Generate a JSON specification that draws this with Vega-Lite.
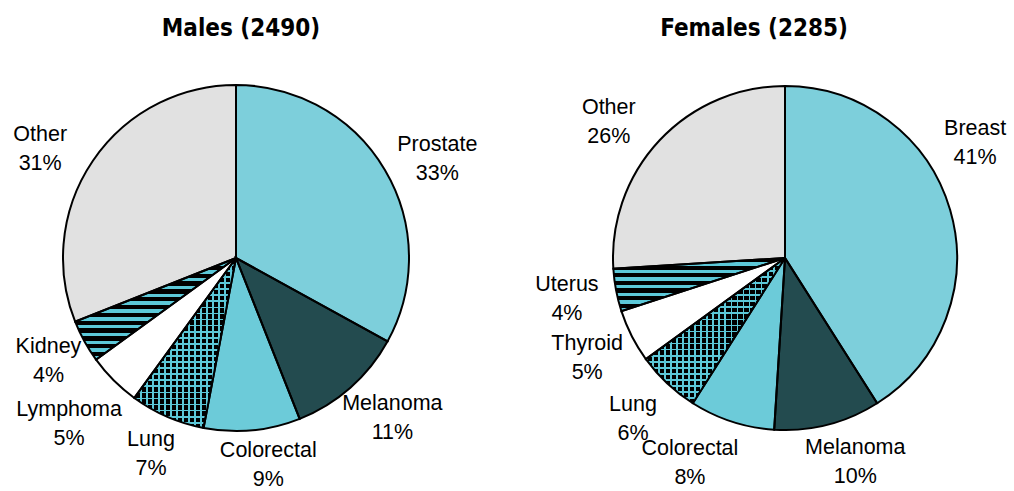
{
  "$schema": "https://vega.github.io/schema/vega-lite/v6.json",
  "padding": {"left": 1, "top": 17, "right": 0, "bottom": 0},
  "bounds": "flush",
  "spacing": 94,
  "background": "white",
  "config": {"view": {"stroke": null}},
  "resolve": {"scale": {"fill": "independent"}},
  "data": {"values": [
    {"sex": "Males", "cat": "Prostate", "pct": 33, "ord": 1},
    {"sex": "Males", "cat": "Melanoma", "pct": 11, "ord": 2},
    {"sex": "Males", "cat": "Colorectal", "pct": 9, "ord": 3},
    {"sex": "Males", "cat": "Lung", "pct": 7, "ord": 4},
    {"sex": "Males", "cat": "Lymphoma", "pct": 5, "ord": 5},
    {"sex": "Males", "cat": "Kidney", "pct": 4, "ord": 6},
    {"sex": "Males", "cat": "Other", "pct": 31, "ord": 7},
    {"sex": "Females", "cat": "Breast", "pct": 41, "ord": 1},
    {"sex": "Females", "cat": "Melanoma", "pct": 10, "ord": 2},
    {"sex": "Females", "cat": "Colorectal", "pct": 8, "ord": 3},
    {"sex": "Females", "cat": "Lung", "pct": 6, "ord": 4},
    {"sex": "Females", "cat": "Thyroid", "pct": 5, "ord": 5},
    {"sex": "Females", "cat": "Uterus", "pct": 4, "ord": 6},
    {"sex": "Females", "cat": "Other", "pct": 26, "ord": 7}
  ]},
  "transform": [{"calculate": "datum.cat + '\\n' + datum.pct + '%'", "as": "label"}],
  "hconcat": [
    {
      "title": {"text": "Males (2490)", "font": "DejaVu Sans Condensed", "fontWeight": "bold", "fontSize": 24, "baseline": "alphabetic", "offset": 11, "anchor": "middle", "frame": "group", "dx": 5, "color": "black"},
      "width": 470,
      "height": 374,
      "transform": [{"filter": "datum.sex === 'Males'"}],
      "encoding": {
        "theta": {"field": "pct", "type": "quantitative", "stack": true, "scale": {"domain": [0, 100]}},
        "order": {"field": "ord", "type": "quantitative"}
      },
      "layer": [
        {
          "mark": {"type": "arc", "outerRadius": 173, "strokeWidth": 0},
          "encoding": {
            "fill": {
              "condition": [
                {"test": "datum.cat === 'Kidney'", "value": {"gradient": "linear", "x1": 0, "y1": 0, "x2": 0, "y2": 1, "stops": [
                  {"offset": 0, "color": "#000"}, {"offset": 0.0423, "color": "#000"}, {"offset": 0.0423, "color": "#5cc8d8"}, {"offset": 0.0769, "color": "#5cc8d8"},
                  {"offset": 0.0769, "color": "#000"}, {"offset": 0.1192, "color": "#000"}, {"offset": 0.1192, "color": "#5cc8d8"}, {"offset": 0.1538, "color": "#5cc8d8"},
                  {"offset": 0.1538, "color": "#000"}, {"offset": 0.1962, "color": "#000"}, {"offset": 0.1962, "color": "#5cc8d8"}, {"offset": 0.2308, "color": "#5cc8d8"},
                  {"offset": 0.2308, "color": "#000"}, {"offset": 0.2731, "color": "#000"}, {"offset": 0.2731, "color": "#5cc8d8"}, {"offset": 0.3077, "color": "#5cc8d8"},
                  {"offset": 0.3077, "color": "#000"}, {"offset": 0.35, "color": "#000"}, {"offset": 0.35, "color": "#5cc8d8"}, {"offset": 0.3846, "color": "#5cc8d8"},
                  {"offset": 0.3846, "color": "#000"}, {"offset": 0.4269, "color": "#000"}, {"offset": 0.4269, "color": "#5cc8d8"}, {"offset": 0.4615, "color": "#5cc8d8"},
                  {"offset": 0.4615, "color": "#000"}, {"offset": 0.5038, "color": "#000"}, {"offset": 0.5038, "color": "#5cc8d8"}, {"offset": 0.5385, "color": "#5cc8d8"},
                  {"offset": 0.5385, "color": "#000"}, {"offset": 0.5808, "color": "#000"}, {"offset": 0.5808, "color": "#5cc8d8"}, {"offset": 0.6154, "color": "#5cc8d8"},
                  {"offset": 0.6154, "color": "#000"}, {"offset": 0.6577, "color": "#000"}, {"offset": 0.6577, "color": "#5cc8d8"}, {"offset": 0.6923, "color": "#5cc8d8"},
                  {"offset": 0.6923, "color": "#000"}, {"offset": 0.7346, "color": "#000"}, {"offset": 0.7346, "color": "#5cc8d8"}, {"offset": 0.7692, "color": "#5cc8d8"},
                  {"offset": 0.7692, "color": "#000"}, {"offset": 0.8115, "color": "#000"}, {"offset": 0.8115, "color": "#5cc8d8"}, {"offset": 0.8462, "color": "#5cc8d8"},
                  {"offset": 0.8462, "color": "#000"}, {"offset": 0.8885, "color": "#000"}, {"offset": 0.8885, "color": "#5cc8d8"}, {"offset": 0.9231, "color": "#5cc8d8"},
                  {"offset": 0.9231, "color": "#000"}, {"offset": 0.9654, "color": "#000"}, {"offset": 0.9654, "color": "#5cc8d8"}, {"offset": 1, "color": "#5cc8d8"}
                ]}},
                {"test": "datum.cat === 'Lung'", "value": {"gradient": "linear", "x1": 0, "y1": 0, "x2": 0, "y2": 1, "stops": [
                  {"offset": 0, "color": "#5cc8d8"}, {"offset": 0.01, "color": "#5cc8d8"}, {"offset": 0.01, "color": "#000"}, {"offset": 0.0357, "color": "#000"},
                  {"offset": 0.0357, "color": "#5cc8d8"}, {"offset": 0.0457, "color": "#5cc8d8"}, {"offset": 0.0457, "color": "#000"}, {"offset": 0.0714, "color": "#000"},
                  {"offset": 0.0714, "color": "#5cc8d8"}, {"offset": 0.0814, "color": "#5cc8d8"}, {"offset": 0.0814, "color": "#000"}, {"offset": 0.1071, "color": "#000"},
                  {"offset": 0.1071, "color": "#5cc8d8"}, {"offset": 0.1171, "color": "#5cc8d8"}, {"offset": 0.1171, "color": "#000"}, {"offset": 0.1429, "color": "#000"},
                  {"offset": 0.1429, "color": "#5cc8d8"}, {"offset": 0.1529, "color": "#5cc8d8"}, {"offset": 0.1529, "color": "#000"}, {"offset": 0.1786, "color": "#000"},
                  {"offset": 0.1786, "color": "#5cc8d8"}, {"offset": 0.1886, "color": "#5cc8d8"}, {"offset": 0.1886, "color": "#000"}, {"offset": 0.2143, "color": "#000"},
                  {"offset": 0.2143, "color": "#5cc8d8"}, {"offset": 0.2243, "color": "#5cc8d8"}, {"offset": 0.2243, "color": "#000"}, {"offset": 0.25, "color": "#000"},
                  {"offset": 0.25, "color": "#5cc8d8"}, {"offset": 0.26, "color": "#5cc8d8"}, {"offset": 0.26, "color": "#000"}, {"offset": 0.2857, "color": "#000"},
                  {"offset": 0.2857, "color": "#5cc8d8"}, {"offset": 0.2957, "color": "#5cc8d8"}, {"offset": 0.2957, "color": "#000"}, {"offset": 0.3214, "color": "#000"},
                  {"offset": 0.3214, "color": "#5cc8d8"}, {"offset": 0.3314, "color": "#5cc8d8"}, {"offset": 0.3314, "color": "#000"}, {"offset": 0.3571, "color": "#000"},
                  {"offset": 0.3571, "color": "#5cc8d8"}, {"offset": 0.3671, "color": "#5cc8d8"}, {"offset": 0.3671, "color": "#000"}, {"offset": 0.3929, "color": "#000"},
                  {"offset": 0.3929, "color": "#5cc8d8"}, {"offset": 0.4029, "color": "#5cc8d8"}, {"offset": 0.4029, "color": "#000"}, {"offset": 0.4286, "color": "#000"},
                  {"offset": 0.4286, "color": "#5cc8d8"}, {"offset": 0.4386, "color": "#5cc8d8"}, {"offset": 0.4386, "color": "#000"}, {"offset": 0.4643, "color": "#000"},
                  {"offset": 0.4643, "color": "#5cc8d8"}, {"offset": 0.4743, "color": "#5cc8d8"}, {"offset": 0.4743, "color": "#000"}, {"offset": 0.5, "color": "#000"},
                  {"offset": 0.5, "color": "#5cc8d8"}, {"offset": 0.51, "color": "#5cc8d8"}, {"offset": 0.51, "color": "#000"}, {"offset": 0.5357, "color": "#000"},
                  {"offset": 0.5357, "color": "#5cc8d8"}, {"offset": 0.5457, "color": "#5cc8d8"}, {"offset": 0.5457, "color": "#000"}, {"offset": 0.5714, "color": "#000"},
                  {"offset": 0.5714, "color": "#5cc8d8"}, {"offset": 0.5814, "color": "#5cc8d8"}, {"offset": 0.5814, "color": "#000"}, {"offset": 0.6071, "color": "#000"},
                  {"offset": 0.6071, "color": "#5cc8d8"}, {"offset": 0.6171, "color": "#5cc8d8"}, {"offset": 0.6171, "color": "#000"}, {"offset": 0.6429, "color": "#000"},
                  {"offset": 0.6429, "color": "#5cc8d8"}, {"offset": 0.6529, "color": "#5cc8d8"}, {"offset": 0.6529, "color": "#000"}, {"offset": 0.6786, "color": "#000"},
                  {"offset": 0.6786, "color": "#5cc8d8"}, {"offset": 0.6886, "color": "#5cc8d8"}, {"offset": 0.6886, "color": "#000"}, {"offset": 0.7143, "color": "#000"},
                  {"offset": 0.7143, "color": "#5cc8d8"}, {"offset": 0.7243, "color": "#5cc8d8"}, {"offset": 0.7243, "color": "#000"}, {"offset": 0.75, "color": "#000"},
                  {"offset": 0.75, "color": "#5cc8d8"}, {"offset": 0.76, "color": "#5cc8d8"}, {"offset": 0.76, "color": "#000"}, {"offset": 0.7857, "color": "#000"},
                  {"offset": 0.7857, "color": "#5cc8d8"}, {"offset": 0.7957, "color": "#5cc8d8"}, {"offset": 0.7957, "color": "#000"}, {"offset": 0.8214, "color": "#000"},
                  {"offset": 0.8214, "color": "#5cc8d8"}, {"offset": 0.8314, "color": "#5cc8d8"}, {"offset": 0.8314, "color": "#000"}, {"offset": 0.8571, "color": "#000"},
                  {"offset": 0.8571, "color": "#5cc8d8"}, {"offset": 0.8671, "color": "#5cc8d8"}, {"offset": 0.8671, "color": "#000"}, {"offset": 0.8929, "color": "#000"},
                  {"offset": 0.8929, "color": "#5cc8d8"}, {"offset": 0.9029, "color": "#5cc8d8"}, {"offset": 0.9029, "color": "#000"}, {"offset": 0.9286, "color": "#000"},
                  {"offset": 0.9286, "color": "#5cc8d8"}, {"offset": 0.9386, "color": "#5cc8d8"}, {"offset": 0.9386, "color": "#000"}, {"offset": 0.9643, "color": "#000"},
                  {"offset": 0.9643, "color": "#5cc8d8"}, {"offset": 0.9743, "color": "#5cc8d8"}, {"offset": 0.9743, "color": "#000"}, {"offset": 1, "color": "#000"}
                ]}}
              ],
              "field": "cat", "type": "nominal", "legend": null,
              "scale": {
                "domain": ["Prostate", "Breast", "Melanoma", "Colorectal", "Lung", "Lymphoma", "Thyroid", "Kidney", "Uterus", "Other"],
                "range": ["#7dcfdb", "#7dcfdb", "#234b4f", "#6ccbd9", "#000000", "#ffffff", "#ffffff", "#5cc8d8", "#5cc8d8", "#e1e1e1"]
              }
            }
          }
        },
        {
          "mark": {"type": "arc", "outerRadius": 173, "stroke": "#000", "strokeWidth": 2},
          "encoding": {
            "fill": {
              "condition": {"test": "datum.cat === 'Lung'", "value": {"gradient": "linear", "x1": 0, "y1": 0, "x2": 1, "y2": 0, "stops": [
                {"offset": 0, "color": "#5cc8d8"}, {"offset": 0.0165, "color": "#5cc8d8"}, {"offset": 0.0165, "color": "transparent"}, {"offset": 0.0588, "color": "transparent"},
                {"offset": 0.0588, "color": "#5cc8d8"}, {"offset": 0.0753, "color": "#5cc8d8"}, {"offset": 0.0753, "color": "transparent"}, {"offset": 0.1176, "color": "transparent"},
                {"offset": 0.1176, "color": "#5cc8d8"}, {"offset": 0.1341, "color": "#5cc8d8"}, {"offset": 0.1341, "color": "transparent"}, {"offset": 0.1765, "color": "transparent"},
                {"offset": 0.1765, "color": "#5cc8d8"}, {"offset": 0.193, "color": "#5cc8d8"}, {"offset": 0.193, "color": "transparent"}, {"offset": 0.2353, "color": "transparent"},
                {"offset": 0.2353, "color": "#5cc8d8"}, {"offset": 0.2518, "color": "#5cc8d8"}, {"offset": 0.2518, "color": "transparent"}, {"offset": 0.2941, "color": "transparent"},
                {"offset": 0.2941, "color": "#5cc8d8"}, {"offset": 0.3106, "color": "#5cc8d8"}, {"offset": 0.3106, "color": "transparent"}, {"offset": 0.3529, "color": "transparent"},
                {"offset": 0.3529, "color": "#5cc8d8"}, {"offset": 0.3694, "color": "#5cc8d8"}, {"offset": 0.3694, "color": "transparent"}, {"offset": 0.4118, "color": "transparent"},
                {"offset": 0.4118, "color": "#5cc8d8"}, {"offset": 0.4283, "color": "#5cc8d8"}, {"offset": 0.4283, "color": "transparent"}, {"offset": 0.4706, "color": "transparent"},
                {"offset": 0.4706, "color": "#5cc8d8"}, {"offset": 0.4871, "color": "#5cc8d8"}, {"offset": 0.4871, "color": "transparent"}, {"offset": 0.5294, "color": "transparent"},
                {"offset": 0.5294, "color": "#5cc8d8"}, {"offset": 0.5459, "color": "#5cc8d8"}, {"offset": 0.5459, "color": "transparent"}, {"offset": 0.5882, "color": "transparent"},
                {"offset": 0.5882, "color": "#5cc8d8"}, {"offset": 0.6047, "color": "#5cc8d8"}, {"offset": 0.6047, "color": "transparent"}, {"offset": 0.6471, "color": "transparent"},
                {"offset": 0.6471, "color": "#5cc8d8"}, {"offset": 0.6636, "color": "#5cc8d8"}, {"offset": 0.6636, "color": "transparent"}, {"offset": 0.7059, "color": "transparent"},
                {"offset": 0.7059, "color": "#5cc8d8"}, {"offset": 0.7224, "color": "#5cc8d8"}, {"offset": 0.7224, "color": "transparent"}, {"offset": 0.7647, "color": "transparent"},
                {"offset": 0.7647, "color": "#5cc8d8"}, {"offset": 0.7812, "color": "#5cc8d8"}, {"offset": 0.7812, "color": "transparent"}, {"offset": 0.8235, "color": "transparent"},
                {"offset": 0.8235, "color": "#5cc8d8"}, {"offset": 0.84, "color": "#5cc8d8"}, {"offset": 0.84, "color": "transparent"}, {"offset": 0.8824, "color": "transparent"},
                {"offset": 0.8824, "color": "#5cc8d8"}, {"offset": 0.8989, "color": "#5cc8d8"}, {"offset": 0.8989, "color": "transparent"}, {"offset": 0.9412, "color": "transparent"},
                {"offset": 0.9412, "color": "#5cc8d8"}, {"offset": 0.9577, "color": "#5cc8d8"}, {"offset": 0.9577, "color": "transparent"}, {"offset": 1, "color": "transparent"}
              ]}},
              "value": "transparent"
            }
          }
        },
        {
          "mark": {"type": "text", "radius": {"expr": "datum.cat === 'Colorectal' ? 210 : datum.cat === 'Lymphoma' ? 236 : (datum.cat === 'Kidney' || datum.cat === 'Lung') ? 214 : 224"}, "thetaOffset": {"expr": "datum.cat === 'Prostate' ? 0.08 : datum.cat === 'Other' ? -0.09 : datum.cat === 'Melanoma' ? -0.05 : datum.cat === 'Colorectal' ? -0.06 : 0"}, "dy": -14.5, "font": "Liberation Sans", "fontSize": 21.5, "lineHeight": 29, "lineBreak": "\n", "align": "center", "baseline": "middle", "color": "#000"},
          "encoding": {"text": {"field": "label", "type": "nominal"}}
        }
      ]
    },
    {
      "title": {"text": "Females (2285)", "font": "DejaVu Sans Condensed", "fontWeight": "bold", "fontSize": 24, "baseline": "alphabetic", "offset": 11, "anchor": "middle", "frame": "group", "dx": -31, "color": "black"},
      "width": 440,
      "height": 374,
      "transform": [{"filter": "datum.sex === 'Females'"}],
      "encoding": {
        "theta": {"field": "pct", "type": "quantitative", "stack": true, "scale": {"domain": [0, 100]}},
        "order": {"field": "ord", "type": "quantitative"}
      },
      "layer": [
        {
          "mark": {"type": "arc", "outerRadius": 172, "strokeWidth": 0},
          "encoding": {
            "fill": {
              "condition": [
                {"test": "datum.cat === 'Uterus'", "value": {"gradient": "linear", "x1": 0, "y1": 0, "x2": 0, "y2": 1, "stops": [
                  {"offset": 0, "color": "#000"}, {"offset": 0.0786, "color": "#000"}, {"offset": 0.0786, "color": "#5cc8d8"}, {"offset": 0.1429, "color": "#5cc8d8"},
                  {"offset": 0.1429, "color": "#000"}, {"offset": 0.2214, "color": "#000"}, {"offset": 0.2214, "color": "#5cc8d8"}, {"offset": 0.2857, "color": "#5cc8d8"},
                  {"offset": 0.2857, "color": "#000"}, {"offset": 0.3643, "color": "#000"}, {"offset": 0.3643, "color": "#5cc8d8"}, {"offset": 0.4286, "color": "#5cc8d8"},
                  {"offset": 0.4286, "color": "#000"}, {"offset": 0.5071, "color": "#000"}, {"offset": 0.5071, "color": "#5cc8d8"}, {"offset": 0.5714, "color": "#5cc8d8"},
                  {"offset": 0.5714, "color": "#000"}, {"offset": 0.65, "color": "#000"}, {"offset": 0.65, "color": "#5cc8d8"}, {"offset": 0.7143, "color": "#5cc8d8"},
                  {"offset": 0.7143, "color": "#000"}, {"offset": 0.7929, "color": "#000"}, {"offset": 0.7929, "color": "#5cc8d8"}, {"offset": 0.8571, "color": "#5cc8d8"},
                  {"offset": 0.8571, "color": "#000"}, {"offset": 0.9357, "color": "#000"}, {"offset": 0.9357, "color": "#5cc8d8"}, {"offset": 1, "color": "#5cc8d8"}
                ]}},
                {"test": "datum.cat === 'Lung'", "value": {"gradient": "linear", "x1": 0, "y1": 0, "x2": 0, "y2": 1, "stops": [
                  {"offset": 0, "color": "#5cc8d8"}, {"offset": 0.0117, "color": "#5cc8d8"}, {"offset": 0.0117, "color": "#000"}, {"offset": 0.0417, "color": "#000"},
                  {"offset": 0.0417, "color": "#5cc8d8"}, {"offset": 0.0534, "color": "#5cc8d8"}, {"offset": 0.0534, "color": "#000"}, {"offset": 0.0833, "color": "#000"},
                  {"offset": 0.0833, "color": "#5cc8d8"}, {"offset": 0.095, "color": "#5cc8d8"}, {"offset": 0.095, "color": "#000"}, {"offset": 0.125, "color": "#000"},
                  {"offset": 0.125, "color": "#5cc8d8"}, {"offset": 0.1367, "color": "#5cc8d8"}, {"offset": 0.1367, "color": "#000"}, {"offset": 0.1667, "color": "#000"},
                  {"offset": 0.1667, "color": "#5cc8d8"}, {"offset": 0.1784, "color": "#5cc8d8"}, {"offset": 0.1784, "color": "#000"}, {"offset": 0.2083, "color": "#000"},
                  {"offset": 0.2083, "color": "#5cc8d8"}, {"offset": 0.22, "color": "#5cc8d8"}, {"offset": 0.22, "color": "#000"}, {"offset": 0.25, "color": "#000"},
                  {"offset": 0.25, "color": "#5cc8d8"}, {"offset": 0.2617, "color": "#5cc8d8"}, {"offset": 0.2617, "color": "#000"}, {"offset": 0.2917, "color": "#000"},
                  {"offset": 0.2917, "color": "#5cc8d8"}, {"offset": 0.3034, "color": "#5cc8d8"}, {"offset": 0.3034, "color": "#000"}, {"offset": 0.3333, "color": "#000"},
                  {"offset": 0.3333, "color": "#5cc8d8"}, {"offset": 0.345, "color": "#5cc8d8"}, {"offset": 0.345, "color": "#000"}, {"offset": 0.375, "color": "#000"},
                  {"offset": 0.375, "color": "#5cc8d8"}, {"offset": 0.3867, "color": "#5cc8d8"}, {"offset": 0.3867, "color": "#000"}, {"offset": 0.4167, "color": "#000"},
                  {"offset": 0.4167, "color": "#5cc8d8"}, {"offset": 0.4284, "color": "#5cc8d8"}, {"offset": 0.4284, "color": "#000"}, {"offset": 0.4583, "color": "#000"},
                  {"offset": 0.4583, "color": "#5cc8d8"}, {"offset": 0.47, "color": "#5cc8d8"}, {"offset": 0.47, "color": "#000"}, {"offset": 0.5, "color": "#000"},
                  {"offset": 0.5, "color": "#5cc8d8"}, {"offset": 0.5117, "color": "#5cc8d8"}, {"offset": 0.5117, "color": "#000"}, {"offset": 0.5417, "color": "#000"},
                  {"offset": 0.5417, "color": "#5cc8d8"}, {"offset": 0.5534, "color": "#5cc8d8"}, {"offset": 0.5534, "color": "#000"}, {"offset": 0.5833, "color": "#000"},
                  {"offset": 0.5833, "color": "#5cc8d8"}, {"offset": 0.595, "color": "#5cc8d8"}, {"offset": 0.595, "color": "#000"}, {"offset": 0.625, "color": "#000"},
                  {"offset": 0.625, "color": "#5cc8d8"}, {"offset": 0.6367, "color": "#5cc8d8"}, {"offset": 0.6367, "color": "#000"}, {"offset": 0.6667, "color": "#000"},
                  {"offset": 0.6667, "color": "#5cc8d8"}, {"offset": 0.6784, "color": "#5cc8d8"}, {"offset": 0.6784, "color": "#000"}, {"offset": 0.7083, "color": "#000"},
                  {"offset": 0.7083, "color": "#5cc8d8"}, {"offset": 0.72, "color": "#5cc8d8"}, {"offset": 0.72, "color": "#000"}, {"offset": 0.75, "color": "#000"},
                  {"offset": 0.75, "color": "#5cc8d8"}, {"offset": 0.7617, "color": "#5cc8d8"}, {"offset": 0.7617, "color": "#000"}, {"offset": 0.7917, "color": "#000"},
                  {"offset": 0.7917, "color": "#5cc8d8"}, {"offset": 0.8034, "color": "#5cc8d8"}, {"offset": 0.8034, "color": "#000"}, {"offset": 0.8333, "color": "#000"},
                  {"offset": 0.8333, "color": "#5cc8d8"}, {"offset": 0.845, "color": "#5cc8d8"}, {"offset": 0.845, "color": "#000"}, {"offset": 0.875, "color": "#000"},
                  {"offset": 0.875, "color": "#5cc8d8"}, {"offset": 0.8867, "color": "#5cc8d8"}, {"offset": 0.8867, "color": "#000"}, {"offset": 0.9167, "color": "#000"},
                  {"offset": 0.9167, "color": "#5cc8d8"}, {"offset": 0.9284, "color": "#5cc8d8"}, {"offset": 0.9284, "color": "#000"}, {"offset": 0.9583, "color": "#000"},
                  {"offset": 0.9583, "color": "#5cc8d8"}, {"offset": 0.97, "color": "#5cc8d8"}, {"offset": 0.97, "color": "#000"}, {"offset": 1, "color": "#000"}
                ]}}
              ],
              "field": "cat", "type": "nominal", "legend": null,
              "scale": {
                "domain": ["Prostate", "Breast", "Melanoma", "Colorectal", "Lung", "Lymphoma", "Thyroid", "Kidney", "Uterus", "Other"],
                "range": ["#7dcfdb", "#7dcfdb", "#234b4f", "#6ccbd9", "#000000", "#ffffff", "#ffffff", "#5cc8d8", "#5cc8d8", "#e1e1e1"]
              }
            }
          }
        },
        {
          "mark": {"type": "arc", "outerRadius": 172, "stroke": "#000", "strokeWidth": 2},
          "encoding": {
            "fill": {
              "condition": {"test": "datum.cat === 'Lung'", "value": {"gradient": "linear", "x1": 0, "y1": 0, "x2": 1, "y2": 0, "stops": [
                {"offset": 0, "color": "#5cc8d8"}, {"offset": 0.0122, "color": "#5cc8d8"}, {"offset": 0.0122, "color": "transparent"}, {"offset": 0.0435, "color": "transparent"},
                {"offset": 0.0435, "color": "#5cc8d8"}, {"offset": 0.0557, "color": "#5cc8d8"}, {"offset": 0.0557, "color": "transparent"}, {"offset": 0.087, "color": "transparent"},
                {"offset": 0.087, "color": "#5cc8d8"}, {"offset": 0.0992, "color": "#5cc8d8"}, {"offset": 0.0992, "color": "transparent"}, {"offset": 0.1304, "color": "transparent"},
                {"offset": 0.1304, "color": "#5cc8d8"}, {"offset": 0.1426, "color": "#5cc8d8"}, {"offset": 0.1426, "color": "transparent"}, {"offset": 0.1739, "color": "transparent"},
                {"offset": 0.1739, "color": "#5cc8d8"}, {"offset": 0.1861, "color": "#5cc8d8"}, {"offset": 0.1861, "color": "transparent"}, {"offset": 0.2174, "color": "transparent"},
                {"offset": 0.2174, "color": "#5cc8d8"}, {"offset": 0.2296, "color": "#5cc8d8"}, {"offset": 0.2296, "color": "transparent"}, {"offset": 0.2609, "color": "transparent"},
                {"offset": 0.2609, "color": "#5cc8d8"}, {"offset": 0.2731, "color": "#5cc8d8"}, {"offset": 0.2731, "color": "transparent"}, {"offset": 0.3043, "color": "transparent"},
                {"offset": 0.3043, "color": "#5cc8d8"}, {"offset": 0.3165, "color": "#5cc8d8"}, {"offset": 0.3165, "color": "transparent"}, {"offset": 0.3478, "color": "transparent"},
                {"offset": 0.3478, "color": "#5cc8d8"}, {"offset": 0.36, "color": "#5cc8d8"}, {"offset": 0.36, "color": "transparent"}, {"offset": 0.3913, "color": "transparent"},
                {"offset": 0.3913, "color": "#5cc8d8"}, {"offset": 0.4035, "color": "#5cc8d8"}, {"offset": 0.4035, "color": "transparent"}, {"offset": 0.4348, "color": "transparent"},
                {"offset": 0.4348, "color": "#5cc8d8"}, {"offset": 0.447, "color": "#5cc8d8"}, {"offset": 0.447, "color": "transparent"}, {"offset": 0.4783, "color": "transparent"},
                {"offset": 0.4783, "color": "#5cc8d8"}, {"offset": 0.4905, "color": "#5cc8d8"}, {"offset": 0.4905, "color": "transparent"}, {"offset": 0.5217, "color": "transparent"},
                {"offset": 0.5217, "color": "#5cc8d8"}, {"offset": 0.5339, "color": "#5cc8d8"}, {"offset": 0.5339, "color": "transparent"}, {"offset": 0.5652, "color": "transparent"},
                {"offset": 0.5652, "color": "#5cc8d8"}, {"offset": 0.5774, "color": "#5cc8d8"}, {"offset": 0.5774, "color": "transparent"}, {"offset": 0.6087, "color": "transparent"},
                {"offset": 0.6087, "color": "#5cc8d8"}, {"offset": 0.6209, "color": "#5cc8d8"}, {"offset": 0.6209, "color": "transparent"}, {"offset": 0.6522, "color": "transparent"},
                {"offset": 0.6522, "color": "#5cc8d8"}, {"offset": 0.6644, "color": "#5cc8d8"}, {"offset": 0.6644, "color": "transparent"}, {"offset": 0.6957, "color": "transparent"},
                {"offset": 0.6957, "color": "#5cc8d8"}, {"offset": 0.7079, "color": "#5cc8d8"}, {"offset": 0.7079, "color": "transparent"}, {"offset": 0.7391, "color": "transparent"},
                {"offset": 0.7391, "color": "#5cc8d8"}, {"offset": 0.7513, "color": "#5cc8d8"}, {"offset": 0.7513, "color": "transparent"}, {"offset": 0.7826, "color": "transparent"},
                {"offset": 0.7826, "color": "#5cc8d8"}, {"offset": 0.7948, "color": "#5cc8d8"}, {"offset": 0.7948, "color": "transparent"}, {"offset": 0.8261, "color": "transparent"},
                {"offset": 0.8261, "color": "#5cc8d8"}, {"offset": 0.8383, "color": "#5cc8d8"}, {"offset": 0.8383, "color": "transparent"}, {"offset": 0.8696, "color": "transparent"},
                {"offset": 0.8696, "color": "#5cc8d8"}, {"offset": 0.8818, "color": "#5cc8d8"}, {"offset": 0.8818, "color": "transparent"}, {"offset": 0.913, "color": "transparent"},
                {"offset": 0.913, "color": "#5cc8d8"}, {"offset": 0.9252, "color": "#5cc8d8"}, {"offset": 0.9252, "color": "transparent"}, {"offset": 0.9565, "color": "transparent"},
                {"offset": 0.9565, "color": "#5cc8d8"}, {"offset": 0.9687, "color": "#5cc8d8"}, {"offset": 0.9687, "color": "transparent"}, {"offset": 1, "color": "transparent"}
              ]}},
              "value": "transparent"
            }
          }
        },
        {
          "mark": {"type": "text", "radius": {"expr": "datum.cat === 'Melanoma' ? 216 : datum.cat === 'Colorectal' ? 226 : 222"}, "thetaOffset": {"expr": "datum.cat === 'Breast' ? -0.26 : datum.cat === 'Colorectal' ? 0.12 : datum.cat === 'Other' ? -0.1 : datum.cat === 'Melanoma' ? -0.08 : 0"}, "dy": -14.5, "font": "Liberation Sans", "fontSize": 21.5, "lineHeight": 29, "lineBreak": "\n", "align": "center", "baseline": "middle", "color": "#000"},
          "encoding": {"text": {"field": "label", "type": "nominal"}}
        }
      ]
    }
  ]
}
